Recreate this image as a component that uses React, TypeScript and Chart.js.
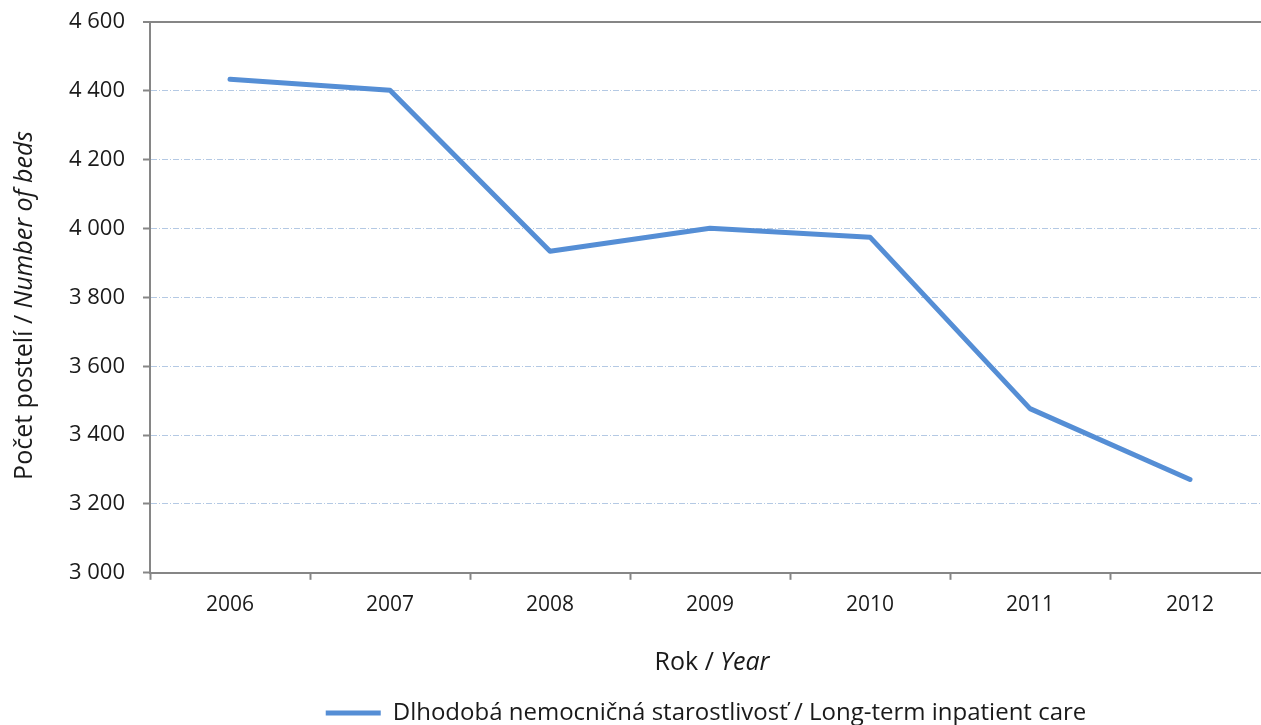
import React, { useEffect, useRef } from "react";
import { Chart, registerables } from "chart.js";

Chart.register(...registerables);

const years = ["2006", "2007", "2008", "2009", "2010", "2011", "2012"];
const beds = [4434, 4402, 3934, 4001, 3975, 3477, 3271];
const seriesLabel = "Dlhodobá nemocničná starostlivosť / Long-term inpatient care";
const xTitleParts = [
  { text: "Rok / ", italic: false },
  { text: "Year", italic: true },
];
const yTitleParts = [
  { text: "Počet postelí / ", italic: false },
  { text: "Number of beds", italic: true },
];
const yMin = 3000;
const yMax = 4600;
const yStep = 200;

const FONT = "'Open Sans', 'DejaVu Sans', sans-serif";
const AXIS_GRAY = "#868686";
const GRID_BLUE = "#b4c9e4";
const LINE_BLUE = "#558ed5";
const TEXT = "#1a1a1a";
const TITLE_SIZE = 25;

function fmt(v: number): string {
  const th = Math.floor(v / 1000);
  const rest = String(v % 1000).padStart(3, "0");
  return th > 0 ? `${th} ${rest}` : String(v);
}

function drawParts(ctx: CanvasRenderingContext2D, parts: { text: string; italic: boolean }[], cx: number, cy: number, rot: number) {
  ctx.save();
  ctx.translate(cx, cy);
  ctx.rotate(rot);
  ctx.fillStyle = TEXT;
  ctx.textBaseline = "middle";
  ctx.textAlign = "left";
  const widths = parts.map((p) => {
    ctx.font = `${p.italic ? "italic " : ""}${TITLE_SIZE}px ${FONT}`;
    return ctx.measureText(p.text).width;
  });
  const total = widths.reduce((a, b) => a + b, 0);
  let x = -total / 2;
  parts.forEach((p, i) => {
    ctx.font = `${p.italic ? "italic " : ""}${TITLE_SIZE}px ${FONT}`;
    ctx.fillText(p.text, x, 0);
    x += widths[i];
  });
  ctx.restore();
}

const titlePlugin = {
  id: "mixedTitles",
  afterDraw(chart: any) {
    const ctx = chart.ctx as CanvasRenderingContext2D;
    const area = chart.chartArea;
    drawParts(ctx, xTitleParts, (area.left + area.right) / 2 + 2, area.bottom + 90, 0);
    drawParts(ctx, yTitleParts, 25, (area.top + area.bottom) / 2 + 8, -Math.PI / 2);
  },
};

export default function App() {
  const ref = useRef<HTMLCanvasElement | null>(null);
  useEffect(() => {
    if (!ref.current) return;
    const chart = new Chart(ref.current, {
      type: "line",
      data: {
        labels: years,
        datasets: [
          {
            label: seriesLabel,
            data: beds,
            borderColor: LINE_BLUE,
            backgroundColor: LINE_BLUE,
            borderWidth: 5,
            borderCapStyle: "round",
            borderJoinStyle: "round",
            pointRadius: 0,
            pointHoverRadius: 0,
            tension: 0,
            yAxisID: "y",
          },
        ],
      },
      plugins: [titlePlugin],
      options: {
        animation: false,
        responsive: false,
        maintainAspectRatio: false,
        layout: { padding: { top: 22, right: 0, left: 0, bottom: 0 } },
        plugins: {
          tooltip: { enabled: false },
          legend: {
            position: "bottom",
            labels: {
              usePointStyle: true,
              pointStyle: "line",
              pointStyleWidth: 55,
              color: TEXT,
              font: { family: FONT, size: 24 },
              padding: 4,
            },
          },
        },
        scales: {
          x: {
            offset: true,
            grid: {
              offset: true,
              drawOnChartArea: false,
              drawTicks: true,
              tickLength: 7,
              tickColor: AXIS_GRAY,
              tickWidth: 2,
            },
            border: { display: true, color: AXIS_GRAY, width: 2 },
            ticks: {
              color: TEXT,
              font: { family: FONT, size: 21 },
              padding: 13,
              maxRotation: 0,
            },
            title: {
              display: true,
              text: "Rok / Year",
              color: "rgba(0,0,0,0)",
              font: { family: FONT, size: TITLE_SIZE },
              padding: { top: 22, bottom: 14 },
            },
          },
          y: {
            min: yMin,
            max: yMax,
            afterFit: (scale: any) => {
              scale.width = 150;
              scale.paddingTop = 0;
              scale.paddingBottom = 0;
            },
            grid: {
              color: (ctx: any) => (ctx.tick && ctx.tick.value === yMax ? AXIS_GRAY : GRID_BLUE),
              lineWidth: (ctx: any) => (ctx.tick && ctx.tick.value === yMax ? 2 : 1),
              tickLength: 7,
              tickColor: AXIS_GRAY,
              tickWidth: 2,
            },
            border: {
              display: true,
              color: AXIS_GRAY,
              width: 2,
              dash: (ctx: any) => (ctx.tick && ctx.tick.value === yMax ? [] : [6, 2, 1, 2]),
            },
            ticks: {
              stepSize: yStep,
              color: TEXT,
              font: { family: FONT, size: 22 },
              padding: 18,
              callback: (v: any) => fmt(Number(v)),
            },
            title: { display: false },
          },
          spacer: {
            type: "linear",
            position: "right",
            min: 0,
            max: 1,
            afterFit: (scale: any) => {
              scale.width = 142;
              scale.paddingTop = 0;
              scale.paddingBottom = 0;
            },
            grid: { drawOnChartArea: false, drawTicks: false },
            border: { display: false },
            ticks: { display: false },
            title: { display: false },
          },
        },
      },
    });
    return () => chart.destroy();
  }, []);
  return (
    <div
      style={{
        position: "fixed",
        left: 0,
        top: 0,
        width: 1261,
        height: 725,
        overflow: "hidden",
        background: "#fff",
      }}
    >
      <canvas ref={ref} width={1412} height={735} style={{ display: "block" }} />
    </div>
  );
}
